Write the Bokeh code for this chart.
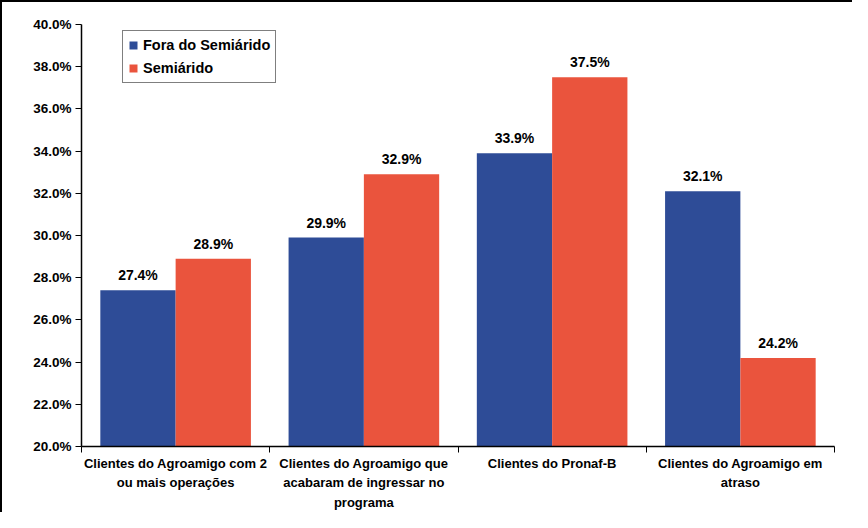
from bokeh.plotting import figure
from bokeh.models import (ColumnDataSource, Range1d, FixedTicker, PrintfTickFormatter,
                          LinearAxis, Legend, LegendItem, LabelSet)
from bokeh.core.properties import value
from bokeh.transform import dodge
from bokeh.embed import file_html
from bokeh.resources import INLINE

categories = [
    "Clientes do Agroamigo com 2\nou mais operações",
    "Clientes do Agroamigo que\nacabaram de ingressar no\nprograma",
    "Clientes do Pronaf-B",
    "Clientes do Agroamigo em\natraso",
]
series_names = ["Fora do Semiárido", "Semiárido"]
fora = [27.4, 29.9, 33.9, 32.1]
semi = [28.9, 32.9, 37.5, 24.2]
y_ticks = [20, 22, 24, 26, 28, 30, 32, 34, 36, 38, 40]

BLUE = "#2E4C97"
RED = "#EA543D"
FONT = "Liberation Sans"

centers = [i + 0.5 for i in range(len(categories))]
bounds = list(range(len(categories) + 1))
src = ColumnDataSource(dict(
    x=centers, fora=fora, semi=semi,
    fora_lbl=[f"{v:.1f}%" for v in fora],
    semi_lbl=[f"{v:.1f}%" for v in semi],
))

p = figure(width=852, height=512, output_backend="svg", toolbar_location=None,
           x_range=Range1d(0, len(categories)), y_range=Range1d(20, 40),
           min_border_left=79, min_border_top=22, min_border_right=20, min_border_bottom=68,
           x_axis_location=None, y_axis_location=None)
p.styles = {"border-left": "2px solid black", "border-top": "2px solid black"}
p.outline_line_color = None
p.grid.visible = False

r1 = p.vbar(x=dodge("x", -0.2, range=p.x_range), top="fora", bottom=20, width=0.4,
            source=src, fill_color=BLUE, line_color=None)
r2 = p.vbar(x=dodge("x", 0.2, range=p.x_range), top="semi", bottom=20, width=0.4,
            source=src, fill_color=RED, line_color=None)

for col, lbl, off in (("fora", "fora_lbl", -0.2), ("semi", "semi_lbl", 0.2)):
    ls = LabelSet(x=dodge("x", off, range=p.x_range), y=col, text=lbl, source=src,
                  text_align="center", text_baseline="bottom", y_offset=7,
                  text_font=value(FONT), text_font_style="bold", text_font_size="14px",
                  text_color="black")
    p.add_layout(ls)

# y axis
yax = LinearAxis(ticker=FixedTicker(ticks=y_ticks),
                 formatter=PrintfTickFormatter(format="%.1f%%"))
yax.axis_line_color = "black"
yax.axis_line_width = 1.5
yax.major_tick_line_color = "black"
yax.major_tick_out = 6
yax.major_tick_in = 0
yax.minor_tick_line_color = None
yax.major_label_text_font = FONT
yax.major_label_text_font_style = "bold"
yax.major_label_text_font_size = "13.5px"
yax.major_label_text_color = "black"
yax.major_label_standoff = 4
p.add_layout(yax, "left")

# x axis line with ticks at category boundaries
xax = LinearAxis(ticker=FixedTicker(ticks=bounds),
                 major_label_overrides={b: "" for b in bounds})
xax.axis_line_color = "black"
xax.axis_line_width = 1.5
xax.major_tick_line_color = "black"
xax.major_tick_out = 6
xax.major_tick_in = 0
xax.minor_tick_line_color = None
xax.major_label_text_font_size = "1px"
xax.major_label_standoff = 0
p.add_layout(xax, "below")

# category labels at centers
xlab = LinearAxis(ticker=FixedTicker(ticks=centers),
                  major_label_overrides={c: t for c, t in zip(centers, categories)})
xlab.axis_line_color = None
xlab.major_tick_line_color = None
xlab.major_tick_out = 0
xlab.major_tick_in = 0
xlab.minor_tick_line_color = None
xlab.major_label_text_font = FONT
xlab.major_label_text_font_style = "bold"
xlab.major_label_text_font_size = "13px"
xlab.major_label_text_color = "black"
xlab.major_label_standoff = 3
xlab.major_label_text_line_height = 1.3
p.add_layout(xlab, "below")

legend = Legend(items=[LegendItem(label=series_names[0], renderers=[r1]),
                       LegendItem(label=series_names[1], renderers=[r2])],
                location=(41, 363))
legend.border_line_color = "black"
legend.border_line_width = 1
legend.background_fill_color = "white"
legend.glyph_width = 10
legend.glyph_height = 10
legend.label_height = 18
legend.label_standoff = 5
legend.spacing = 5
legend.padding = 5
legend.margin = 0
legend.label_text_font = FONT
legend.label_text_font_style = "bold"
legend.label_text_font_size = "14.5px"
legend.label_text_color = "black"
p.add_layout(legend, "center")

open("out.html", "w").write(file_html(p, INLINE))
